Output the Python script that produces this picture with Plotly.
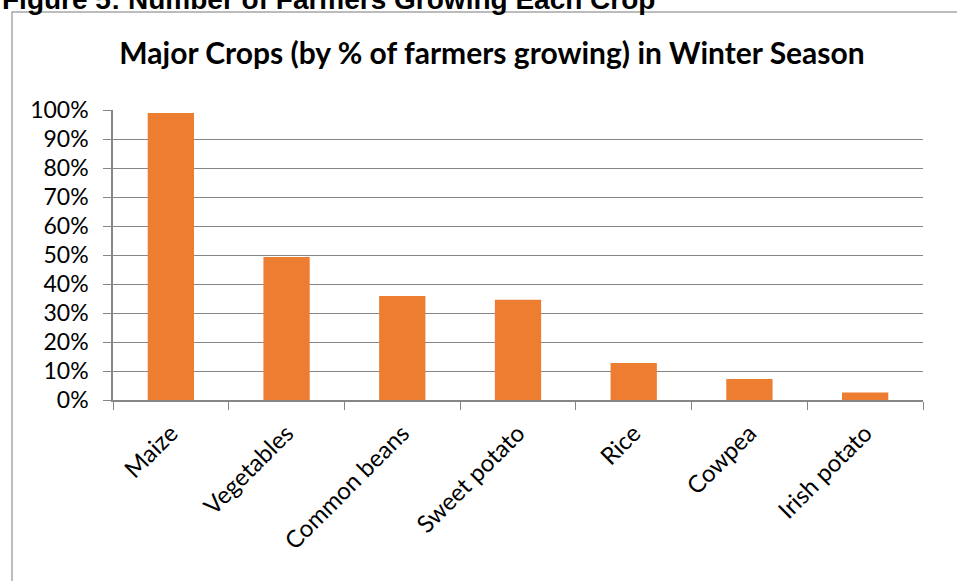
import plotly.graph_objects as go

crops = ["Maize", "Vegetables", "Common beans", "Sweet potato", "Rice", "Cowpea", "Irish potato"]
share = [0.99, 0.493, 0.359, 0.346, 0.128, 0.072, 0.026]
ytick_vals = [0, 0.1, 0.2, 0.3, 0.4, 0.5, 0.6, 0.7, 0.8, 0.9, 1.0]
ytick_text = ["0%", "10%", "20%", "30%", "40%", "50%", "60%", "70%", "80%", "90%", "100%"]

W, H = 957, 581
L, R, T, B = 113, 34, 110, 181
pw, ph = W - L - R, H - T - B

def px_x(p):
    return (p - L) / pw

def px_y(p):
    return (H - B - p) / ph

fig = go.Figure(go.Bar(x=crops, y=share, marker=dict(color="#ED7D31", line=dict(width=0)),
                       hoverinfo="x+y"))

fig.update_layout(
    width=W, height=H,
    margin=dict(l=L, r=R, t=T, b=B),
    paper_bgcolor="white", plot_bgcolor="white",
    bargap=0.6,
    showlegend=False,
    font=dict(family="Lato", color="#000000"),
    title=dict(text="<b>Major Crops (by % of farmers growing) in Winter Season</b>",
               font=dict(family="Lato", size=30, color="#000000"),
               xref="container", x=492 / W, xanchor="center",
               yref="container", y=1 - 53 / H, yanchor="middle"),
    xaxis=dict(showgrid=False, showline=True, linecolor="#868686", linewidth=1.5,
               ticks="outside", tickson="boundaries", ticklen=8, tickcolor="#868686",
               tickangle=-45, ticklabelstandoff=8,
               tickfont=dict(family="Lato", size=24, color="#000000")),
    yaxis=dict(range=[0, 1.0], tickvals=ytick_vals, ticktext=ytick_text,
               showgrid=True, gridcolor="#868686", gridwidth=1,
               showline=True, linecolor="#868686", linewidth=1.5,
               ticks="outside", ticklen=8, tickcolor="#868686",
               ticklabelstandoff=10,
               tickfont=dict(family="Lato", size=23, color="#000000"),
               zeroline=False),
    shapes=[dict(type="rect", xref="paper", yref="paper",
                 x0=px_x(12), x1=px_x(1100), y0=px_y(12), y1=px_y(800),
                 line=dict(color="#A6A6A6", width=1.5), fillcolor="rgba(0,0,0,0)", layer="below")],
    annotations=[dict(text="<b>Figure 5: Number of Farmers Growing Each Crop</b>",
                      xref="paper", yref="paper", x=px_x(0), y=px_y(-1),
                      xanchor="left", yanchor="middle", showarrow=False,
                      font=dict(family="Liberation Sans", size=28, color="#000000"))],
)

fig.write_html("out.html")
